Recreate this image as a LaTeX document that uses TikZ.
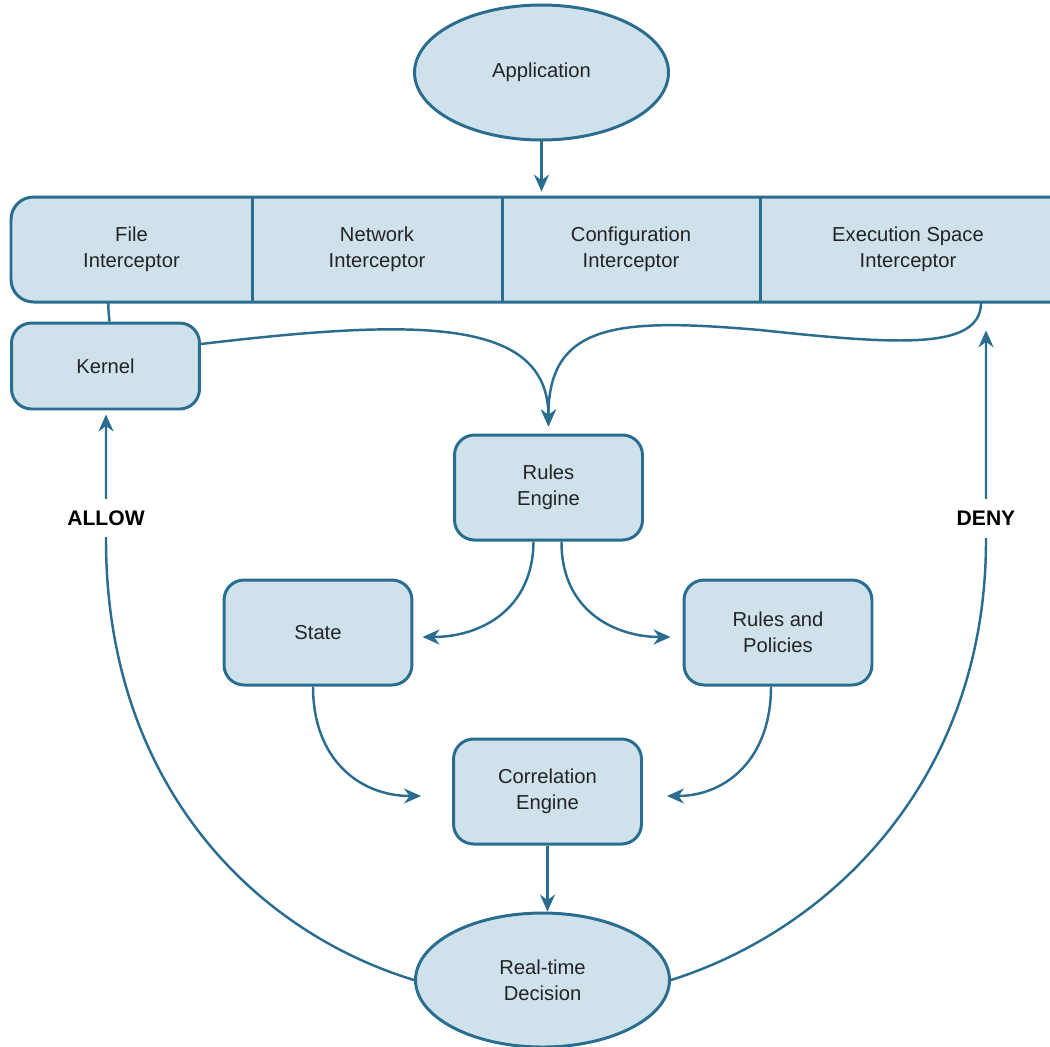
\documentclass[tikz,border=0pt]{standalone}
\usepackage{fontspec}
\setmainfont{Liberation Sans}
\usetikzlibrary{positioning,arrows.meta,shapes.geometric,calc}
\definecolor{boxline}{HTML}{2A6D8F}
\definecolor{boxfill}{HTML}{CFE2EC}
\definecolor{boxtext}{HTML}{232323}

\begin{document}
\begin{tikzpicture}[
        x=0.02cm, y=-0.02cm,
        every node/.style={font=\fontsize{11.5}{14.8}\selectfont, text=boxtext, align=center},
        B/.style={rectangle, rounded corners=0.4cm, draw=boxline, fill=boxfill, line width=1.7pt, minimum width=3.76cm, minimum height=2.1cm},
        E/.style={ellipse, draw=boxline, fill=boxfill, line width=1.7pt, minimum width=5.08cm, minimum height=2.7cm},
        I/.style={rectangle, minimum height=2.1cm, inner sep=0pt},
        V/.style={font=\fontsize{12}{14.8}\selectfont\bfseries, text=black, fill=white, inner xsep=2pt, inner ysep=0.24cm},
        link/.style={draw=boxline, line width=1.4pt},
        tip/.style={-{Stealth[length=0.34cm, width=0.3cm]}}
    ]
    \useasboundingbox (0,0) rectangle (1050,1046);
    \clip (0,0) rectangle (1050,1046);

    \filldraw[draw=boxline, fill=boxfill, line width=1.7pt, rounded corners=0.45cm] (11,197) rectangle (1080,302);

    \node[E]      (app)  at (541.5,72.5) {Application};
    \node[I, minimum width=4.82cm] (fi) at (131.5,249.5) {File\\Interceptor};
    \node[I, minimum width=5cm]    (ni) at (377,249.5)   {Network\\Interceptor};
    \node[I, minimum width=5.16cm] (ci) at (631,249.5)   {Configuration\\Interceptor};
    \node[I, minimum width=5.92cm] (ei) at (908,249.5)   {Execution Space\\Interceptor};
    \foreach \c in {fi,ni,ci}
        \draw[boxline, line width=1.7pt] (\c.north east) -- (\c.south east);

    \node[B, minimum height=1.72cm] (kern) at (105.5,366) {Kernel};
    \node[B]      (rules) at (548.5,487.5) {Rules\\Engine};
    \node[B]      (state) at (318,632.5)   {State};
    \node[B]      (pol)   at (778,632.5)   {Rules and\\Policies};
    \node[B]      (corr)  at (547.5,791.5) {Correlation\\Engine};
    \node[E, minimum height=2.68cm] (rtd) at (542.5,980) {Real-time\\Decision};

    \coordinate (abend) at (106,540);
    \coordinate (dbend) at (986,540);

    \draw[link, tip, shorten >=0.1cm] (app) -- (app |- ci.north);
    \draw[link] ($(kern.north)+(4,0)$) .. controls (109,315) and (108,310) .. ($(fi.south)+(-23,0)$);
    \draw[link, tip, shorten >=0.14cm] ($(kern.east)+(0,-22)$) .. controls (420,318) and (548,318) .. (rules.north);
    \draw[link, tip, shorten >=0.14cm] ($(ei.south)+(73,0)$) .. controls (981,350) and (900,345) .. (760,330)
        .. controls (620,318) and (548,322) .. (rules.north);
    \draw[link, tip, shorten >=0.18cm] ($(rules.south)+(-15,0)$) .. controls (533,610) and (480,637) .. ($(state.east)+(0,4.5)$);
    \draw[link, tip, shorten >=0.24cm] ($(rules.south)+(13,0)$) .. controls (561,610) and (614,637) .. ($(pol.west)+(0,4.5)$);
    \draw[link, tip, shorten >=0.62cm] ($(state.south)+(-5,0)$) .. controls (313,760) and (360,796) .. ($(corr.west)+(0,4.5)$);
    \draw[link, tip, shorten >=0.48cm] ($(pol.south)+(-7,0)$) .. controls (771,760) and (725,796) .. ($(corr.east)+(0,4.5)$);
    \draw[link, tip] (corr.south) -- (corr.south |- rtd.north);
    \draw[link, tip, shorten >=0.08cm] (rtd.west) .. controls (250,930) and (106,780) .. (abend)
        -- (kern.south -| abend) node[V, pos=0.17] {ALLOW};
    \draw[link, tip, shorten >=0.56cm] (rtd.east) .. controls (830,930) and (986,780) .. (dbend)
        -- (ei.south -| dbend) node[V, pos=0.09] {DENY};
\end{tikzpicture}
\end{document}
